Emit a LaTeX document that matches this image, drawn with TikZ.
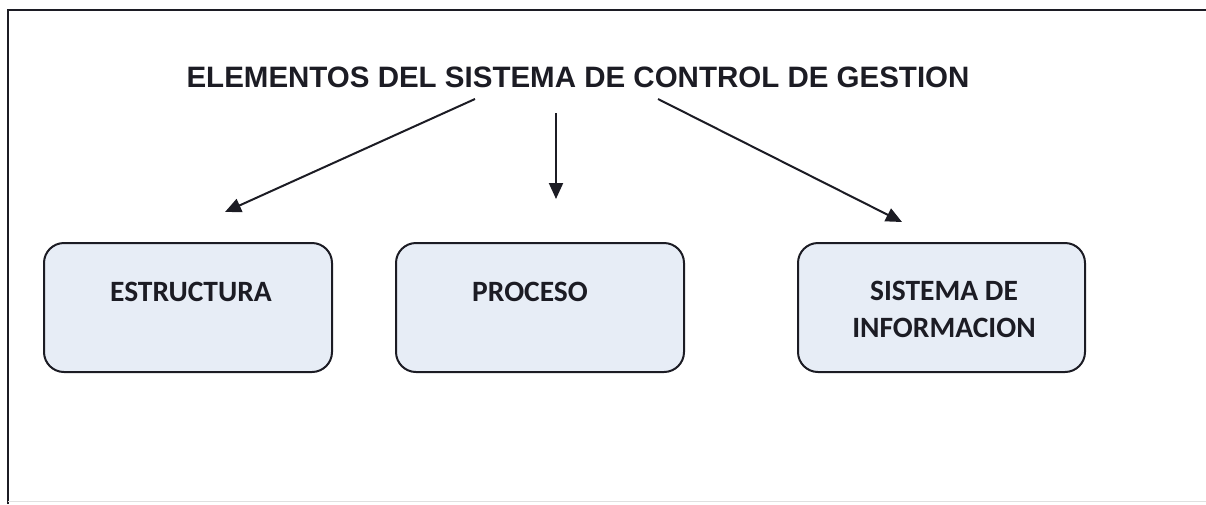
\documentclass[tikz,border=0pt]{standalone}
\usepackage{fontspec}
\setmainfont{Liberation Sans}
\newfontfamily\boxfont{Carlito}
\usetikzlibrary{arrows.meta}
\definecolor{boxfill}{HTML}{E7EDF6}
\definecolor{ink}{HTML}{1C1C24}
\tikzset{
  elembox/.style={draw=ink, line width=2pt, fill=boxfill, rounded corners=20pt, inner sep=0pt},
  boxtext/.style={font=\boxfont\bfseries\fontsize{29.5}{36}\selectfont, text=ink, align=center, inner sep=0pt},
  conn/.style={draw=ink, line width=2pt, -{Triangle[length=16pt,width=14pt]}}
}
\begin{document}
\begin{tikzpicture}[x=1pt,y=-1pt]
\useasboundingbox (0,0) rectangle (1206,504);
% frame
\draw[ink, line width=1.6pt] (8,504) -- (8,10) -- (1206,10);
\draw[black!12, line width=1pt] (8,501) -- (1206,501);
% title
\node[font=\bfseries\fontsize{29.5}{36}\selectfont, text=ink, inner sep=0pt] (title) at (578,77) {ELEMENTOS DEL SISTEMA DE CONTROL DE GESTION};
% boxes
\node[elembox, minimum width=288pt, minimum height=129pt] (b1) at (188,307.5) {};
\node[elembox, minimum width=288pt, minimum height=129pt] (b2) at (540,307.5) {};
\node[elembox, minimum width=287pt, minimum height=129pt] (b3) at (941.5,307.5) {};
\node[boxtext] (t1) at (191,292) {ESTRUCTURA};
\node[boxtext] (t2) at (530,292) {PROCESO};
\node[boxtext] (t3) at (944,309) {SISTEMA DE\\[1pt]INFORMACION};
% connectors
\coordinate (s1) at (475,99);
\coordinate (e1) at (225,212);
\coordinate (s2) at (556,113);
\coordinate (e2) at (556,199);
\coordinate (s3) at (658,99);
\coordinate (e3) at (902,222);
\draw[conn] (s1) -- (e1);
\draw[conn] (s2) -- (e2);
\draw[conn] (s3) -- (e3);
\end{tikzpicture}
\end{document}
